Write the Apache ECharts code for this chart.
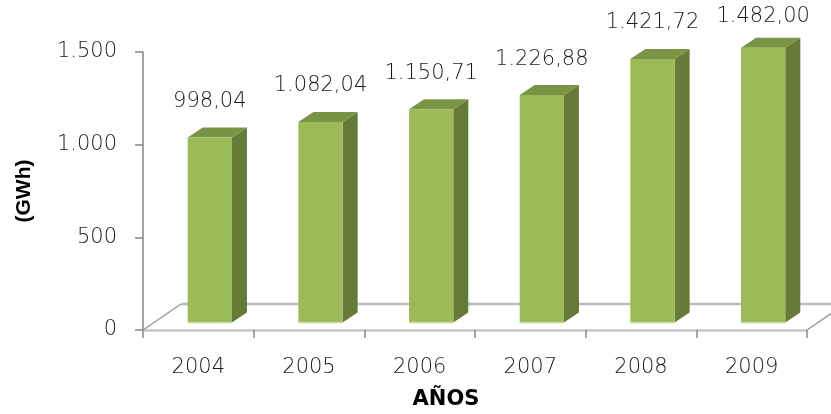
<!DOCTYPE html>
<html>
<head>
<meta charset="utf-8">
<script src="https://cdn.jsdelivr.net/npm/echarts@6/dist/echarts.min.js"></script>
<style>
  html, body { margin: 0; padding: 0; background: #fff; }
  #chart { width: 831px; height: 414px; }
</style>
</head>
<body>
<div id="chart"></div>
<script>
// Annual energy figures (GWh)
const years = ['2004', '2005', '2006', '2007', '2008', '2009'];
const energy = [998.04, 1082.04, 1150.71, 1226.88, 1421.72, 1482.00];
const valueTicks = [0, 500, 1000, 1500];
const xTitle = 'AÑOS';
const yTitle = '(GWh)';

// Pseudo-3D geometry (pixels)
const FLOOR_DEPTH = [38, -26];   // back edge of the floor relative to the front edge
const FRONT_SHIFT = [11.5, -7.5]; // bar front face relative to the front plane
const BAR_DEPTH = [15, -10];     // bar side/top depth
const BAR_RATIO = 0.4;           // bar width as a share of the category band

const COLORS = { front: '#9bbb59', side: '#667b37', top: '#7a9446' };
const TEXT_FONT = 'DejaVu Sans';
const TEXT_WEIGHT = 200;

function fmt(v) {
  const parts = v.toFixed(2).split('.');
  const int = parts[0].replace(/\B(?=(\d{3})+(?!\d))/g, '.');
  return int + ',' + parts[1];
}
function fmtTick(v) {
  return String(v).replace(/\B(?=(\d{3})+(?!\d))/g, '.');
}

const chart = echarts.init(document.getElementById('chart'));

chart.setOption({
  animation: false,
  backgroundColor: '#ffffff',
  grid: { left: 143, right: 24, top: 52, bottom: 84 },
  xAxis: {
    type: 'category',
    data: years,
    boundaryGap: true,
    axisLine: { lineStyle: { color: '#c8c8c8', width: 2.5 } },
    axisTick: { show: true, length: 8, lineStyle: { color: '#8a8a8a', width: 1.5 } },
    axisLabel: { fontFamily: TEXT_FONT, fontWeight: TEXT_WEIGHT, fontSize: 21, color: '#1a1a1a', margin: 27 }
  },
  yAxis: {
    type: 'value',
    min: valueTicks[0],
    max: valueTicks[valueTicks.length - 1],
    interval: valueTicks[1] - valueTicks[0],
    name: yTitle,
    nameLocation: 'middle',
    nameRotate: 90,
    nameGap: 108,
    nameTextStyle: { fontFamily: 'Liberation Sans', fontWeight: 'bold', fontSize: 21, color: '#000' },
    splitLine: { show: false },
    axisLine: { show: true, lineStyle: { color: '#868686', width: 1.5 } },
    axisTick: { show: true, length: 8, lineStyle: { color: '#868686', width: 1.5 } },
    axisLabel: {
      fontFamily: TEXT_FONT, fontWeight: TEXT_WEIGHT, fontSize: 21, color: '#1a1a1a', margin: 26,
      formatter: fmtTick
    }
  },
  graphic: [{
    type: 'text',
    x: 446, y: 400,
    style: {
      text: xTitle,
      fontFamily: 'DejaVu Sans', fontWeight: 'bold', fontSize: 21,
      fill: '#000', align: 'center', verticalAlign: 'middle'
    }
  }],
  series: [
    {
      // floor outline behind the bars
      type: 'custom',
      data: [[0]],
      z: 1,
      silent: true,
      renderItem(params, api) {
        const band = api.size([1, 0])[0];
        const fl = api.coord([0, 0]);
        const fr = api.coord([years.length - 1, 0]);
        const x0 = fl[0] - band / 2, x1 = fr[0] + band / 2, y = fl[1];
        const [dx, dy] = FLOOR_DEPTH;
        return {
          type: 'group',
          children: [
            { type: 'line', shape: { x1: x0, y1: y, x2: x0 + dx, y2: y + dy }, style: { stroke: '#9a9a9a', lineWidth: 1.5 } },
            { type: 'line', shape: { x1: x1, y1: y, x2: x1 + dx, y2: y + dy }, style: { stroke: '#9a9a9a', lineWidth: 1.5 } },
            { type: 'line', shape: { x1: x0 + dx, y1: y + dy, x2: x1 + dx, y2: y + dy }, style: { stroke: '#bdbdbd', lineWidth: 2.5 } }
          ]
        };
      }
    },
    {
      type: 'custom',
      z: 2,
      data: energy.map((v, i) => [i, v]),
      encode: { x: 0, y: 1 },
      renderItem(params, api) {
        const cat = api.value(0), v = api.value(1);
        const base = api.coord([cat, 0]);
        const top = api.coord([cat, v]);
        const band = api.size([1, 0])[0];
        const w = band * BAR_RATIO;
        const x0 = base[0] - w / 2 + FRONT_SHIFT[0];
        const x1 = x0 + w;
        const yb = base[1] + FRONT_SHIFT[1];
        const yt = top[1] + FRONT_SHIFT[1];
        const [dx, dy] = BAR_DEPTH;
        return {
          type: 'group',
          children: [
            { type: 'polygon', shape: { points: [[x1, yt], [x1 + dx, yt + dy], [x1 + dx, yb + dy], [x1, yb]] }, style: { fill: COLORS.side } },
            { type: 'polygon', shape: { points: [[x0, yt], [x0 + dx, yt + dy], [x1 + dx, yt + dy], [x1, yt]] }, style: { fill: COLORS.top } },
            { type: 'rect', shape: { x: x0, y: yt, width: w, height: yb - yt }, style: { fill: COLORS.front } },
            { type: 'line', shape: { x1: x0, y1: yb, x2: x1, y2: yb }, style: { stroke: '#c3d69b', lineWidth: 1.5 } },
            {
              type: 'text',
              x: x0 + w / 2,
              y: Math.max(yt - 36, 17),
              style: {
                text: fmt(v),
                fontFamily: TEXT_FONT, fontWeight: TEXT_WEIGHT, fontSize: 21, fill: '#1a1a1a',
                align: 'center', verticalAlign: 'middle'
              }
            }
          ]
        };
      }
    }
  ]
});
</script>
</body>
</html>
